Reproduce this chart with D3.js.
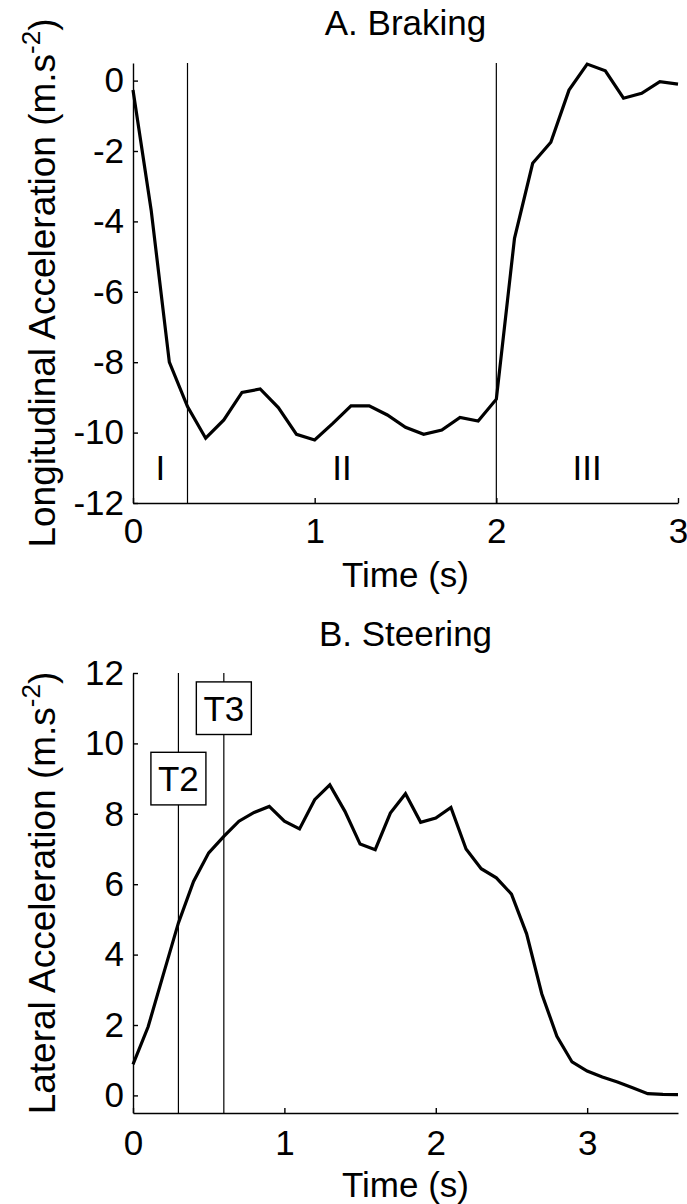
<!DOCTYPE html>
<html>
<head>
<meta charset="utf-8">
<script src="https://cdn.jsdelivr.net/npm/d3@7"></script>
<style>
  html, body { margin: 0; padding: 0; background: #fff; }
  svg { display: block; }
  text { font-family: "Liberation Sans", Arial, Helvetica, sans-serif; fill: #000; }
</style>
</head>
<body>
<svg id="chart" width="687" height="1204"></svg>
<script>
// ---------- DATA ----------
const brakingTime = [0.0,0.1,0.2,0.3,0.4,0.5,0.6,0.7,0.8,0.9,1.0,1.1,1.2,1.3,1.4,1.5,1.6,1.7,1.8,1.9,2.0,2.1,2.2,2.3,2.4,2.5,2.6,2.7,2.8,2.9,3.0];
const brakingAccel = [-0.27,-3.68,-8.0,-9.26,-10.16,-9.64,-8.86,-8.76,-9.29,-10.05,-10.21,-9.74,-9.24,-9.24,-9.5,-9.85,-10.05,-9.93,-9.57,-9.67,-9.05,-4.48,-2.35,-1.75,-0.27,0.47,0.28,-0.5,-0.36,-0.03,-0.1];
const brakingPhaseLines = [0.3, 2.0];
const brakingPhaseLabels = ["I", "II", "III"];
const brakingPhaseLabelX = [0.15, 1.15, 2.5];
const brakingPhaseLabelY = -11;
const brakingXTicks = [0, 1, 2, 3];
const brakingYTicks = [-12, -10, -8, -6, -4, -2, 0];

const steeringTime = [0.0,0.1,0.2,0.3,0.4,0.5,0.6,0.7,0.8,0.9,1.0,1.1,1.2,1.3,1.4,1.5,1.6,1.7,1.8,1.9,2.0,2.1,2.2,2.3,2.4,2.5,2.6,2.7,2.8,2.9,3.0,3.1,3.2,3.3,3.4,3.5,3.6];
const steeringAccel = [0.88,1.95,3.43,4.9,6.08,6.89,7.36,7.79,8.04,8.21,7.79,7.57,8.4,8.82,8.07,7.14,6.98,8.02,8.57,7.76,7.88,8.18,7.0,6.44,6.18,5.72,4.59,2.89,1.68,0.95,0.69,0.52,0.38,0.22,0.05,0.03,0.02];
const steeringMarkerLines = [0.3, 0.6];
const steeringMarkerLabels = ["T2", "T3"];
const steeringMarkerLabelY = [9.0, 11.0];
const steeringXTicks = [0, 1, 2, 3];
const steeringYTicks = [0, 2, 4, 6, 8, 10, 12];

// ---------- LAYOUT ----------
const svg = d3.select("#chart");
const left = 133, right = 678;
const tickFont = 35, labelFont = 35, yLabelFont = 37;

function drawPanel(cfg) {
  const x = d3.scaleLinear().domain(cfg.xDomain).range([left, right]);
  const y = d3.scaleLinear().domain(cfg.yDomain).range([cfg.bottom, cfg.top]);
  const g = svg.append("g");

  const xAxis = d3.axisBottom(x).tickValues(cfg.xTicks).tickFormat(d3.format("d"))
    .tickSizeInner(-5).tickSizeOuter(0).tickPadding(cfg.xPad);
  const yAxis = d3.axisLeft(y).tickValues(cfg.yTicks).tickFormat(d => String(d))
    .tickSizeInner(-5).tickSizeOuter(0).tickPadding(9);

  const gx = g.append("g").attr("transform", `translate(0,${cfg.bottom})`).call(xAxis);
  const gy = g.append("g").attr("transform", `translate(${left},0)`).call(yAxis);
  [gx, gy].forEach(a => {
    a.select(".domain").attr("stroke", "#000").attr("stroke-width", 1.4);
    a.selectAll(".tick line").attr("stroke", "#000").attr("stroke-width", 1.4);
    a.selectAll(".tick text").attr("font-size", tickFont)
      .attr("font-family", '"Liberation Sans", Arial, sans-serif').attr("fill", "#000");
  });

  // vertical marker lines
  g.selectAll("line.marker").data(cfg.markers).enter().append("line")
    .attr("class", "marker")
    .attr("x1", d => x(d)).attr("x2", d => x(d))
    .attr("y1", y(cfg.yDomain[0])).attr("y2", y(cfg.yDomain[1]))
    .attr("stroke", "#000").attr("stroke-width", 1.2);

  // data line
  const data = cfg.xs.map((t, i) => [t, cfg.ys[i]]);
  g.append("path").datum(data)
    .attr("fill", "none").attr("stroke", "#000").attr("stroke-width", 3.2)
    .attr("stroke-linejoin", "miter")
    .attr("d", d3.line().x(d => x(d[0])).y(d => y(d[1])));

  // title
  g.append("text").attr("x", (left + right) / 2).attr("y", cfg.titleY)
    .attr("text-anchor", "middle").attr("font-size", labelFont).text(cfg.title);

  // x label
  g.append("text").attr("x", (left + right) / 2).attr("y", cfg.xLabelY)
    .attr("text-anchor", "middle").attr("font-size", labelFont).text("Time (s)");

  // y label (rotated) with superscript
  const cy = (cfg.top + cfg.bottom) / 2;
  const yl = g.append("text")
    .attr("transform", `translate(55,${cy}) rotate(-90)`)
    .attr("text-anchor", "middle").attr("font-size", yLabelFont);
  yl.append("tspan").text(cfg.yLabel + " (m.s");
  yl.append("tspan").attr("font-size", 26).attr("dy", -15).text("-2");
  yl.append("tspan").attr("dy", 15).text(")");

  return { g, x, y };
}

// ---------- PANEL A ----------
const A = drawPanel({
  xDomain: [0, 3], yDomain: [-12, 0.5], top: 63, bottom: 503,
  xTicks: brakingXTicks, yTicks: brakingYTicks, xPad: 15,
  markers: brakingPhaseLines, xs: brakingTime, ys: brakingAccel,
  title: "A. Braking", titleY: 35, xLabelY: 587, yLabel: "Longitudinal Acceleration"
});
A.g.selectAll("text.phase").data(brakingPhaseLabels).enter().append("text")
  .attr("class", "phase")
  .attr("x", (d, i) => A.x(brakingPhaseLabelX[i]))
  .attr("y", A.y(brakingPhaseLabelY))
  .attr("dy", "0.35em")
  .attr("text-anchor", "middle").attr("font-size", tickFont).text(d => d);

// ---------- PANEL B ----------
const B = drawPanel({
  xDomain: [0, 3.6], yDomain: [-0.5, 12], top: 673, bottom: 1113,
  xTicks: steeringXTicks, yTicks: steeringYTicks, xPad: 17,
  markers: steeringMarkerLines, xs: steeringTime, ys: steeringAccel,
  title: "B. Steering", titleY: 646, xLabelY: 1197, yLabel: "Lateral Acceleration"
});
steeringMarkerLabels.forEach((lab, i) => {
  const cx = B.x(steeringMarkerLines[i]);
  const cy = B.y(steeringMarkerLabelY[i]);
  const grp = B.g.append("g");
  const w = 55, h = 52.6;
  grp.append("rect").attr("fill", "#fff").attr("stroke", "#000").attr("stroke-width", 1.4)
    .attr("x", cx - w / 2).attr("y", cy - h / 2).attr("width", w).attr("height", h);
  grp.append("text").attr("x", cx).attr("y", cy).attr("dy", "0.36em")
    .attr("text-anchor", "middle").attr("font-size", labelFont).text(lab);
});
</script>
</body>
</html>
